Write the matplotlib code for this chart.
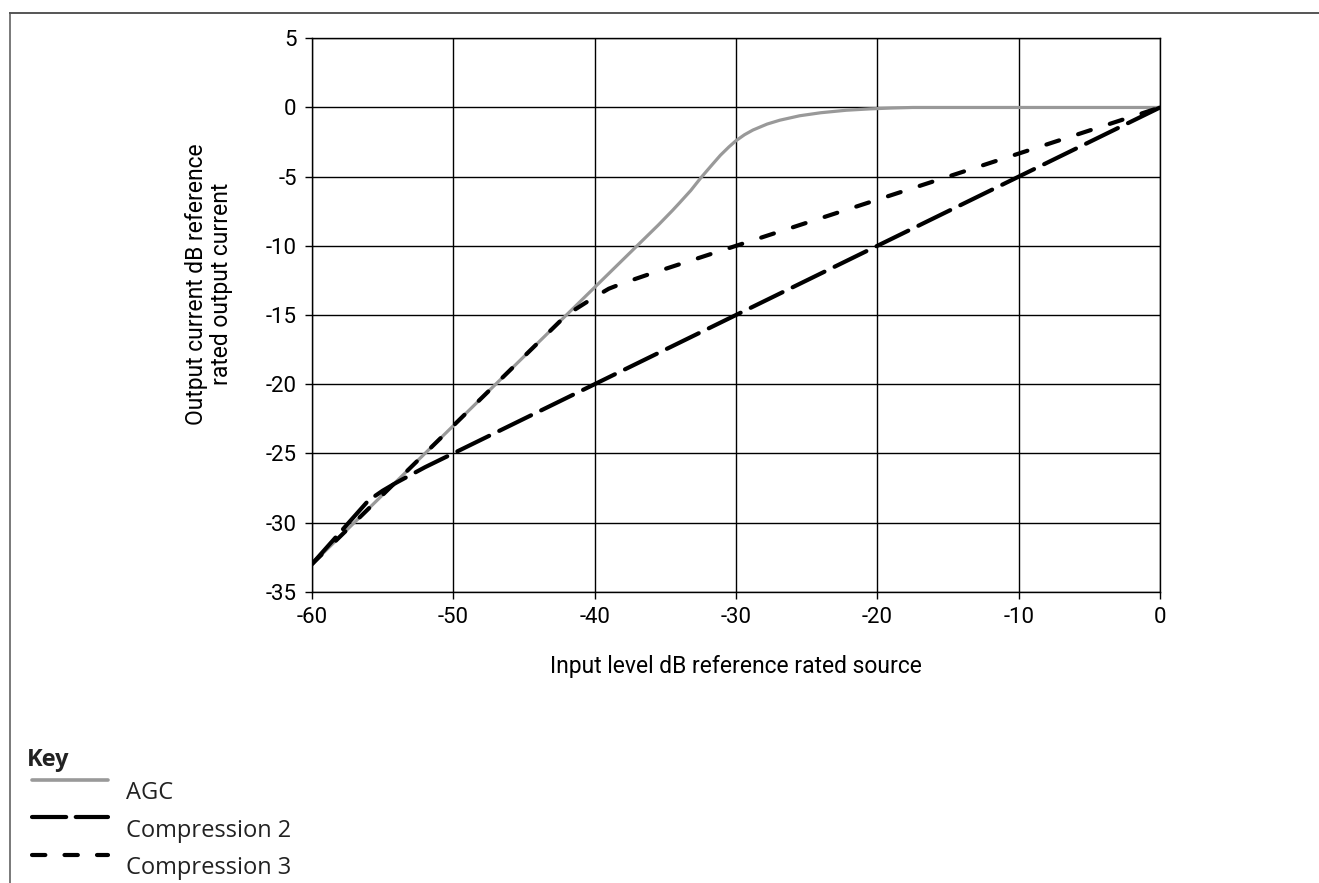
import matplotlib
matplotlib.use("Agg")
import matplotlib.pyplot as plt
from matplotlib.lines import Line2D

# ── Data ─────────────────────────────────────────────────────────────────────
AGC_X = [-60, -50, -40, -37, -35.5, -34.5, -34.0, -33.2, -32.5, -31.7, -31.1,
         -30.5, -30.0, -29.4, -28.8, -27.8, -26.9, -25.5, -24.0, -22.2,
         -20.5, -19.0, -17.5, 0]
AGC_Y = [-33, -23, -13, -10.0, -8.5, -7.45, -6.9, -6.0, -5.1, -4.15, -3.45,
         -2.85, -2.4, -1.97, -1.63, -1.2, -0.92, -0.6, -0.38, -0.2,
         -0.1, -0.04, 0, 0]

COMP2_X = [-60, -56, -55, -54, -52, -50, 0]
COMP2_Y = [-33, -28.4, -27.7, -27.1, -26.0, -25, 0]

COMP3_X = [-60, -42, -40, -39, -38, -36, 0]
COMP3_Y = [-33, -15, -13.7, -13.1, -12.7, -12.0, 0]

X_TICKS = [-60, -50, -40, -30, -20, -10, 0]
Y_TICKS = [5, 0, -5, -10, -15, -20, -25, -30, -35]

SERIES = ["AGC", "Compression 2", "Compression 3"]

# ── Style ────────────────────────────────────────────────────────────────────
W, H = 1319, 883
GREY = "#999999"
TICK_FONT = "Roboto"
KEY_FONT = "Open Sans"
FS_AX = 16
FS_KEY = 17
plt.rcParams["axes.unicode_minus"] = False


def fx(px):
    return px / W


def fy(py):
    return 1 - py / H


fig = plt.figure(figsize=(W / 100, H / 100), dpi=100)
ax = fig.add_axes([fx(312), fy(591.7), fx(1160) - fx(312), fy(38.3) - fy(591.7)])

ax.plot(AGC_X, AGC_Y, color=GREY, linewidth=2.3, zorder=3,
        solid_capstyle="round", solid_joinstyle="round")
ax.plot(COMP2_X, COMP2_Y, color="black", linewidth=3.0, zorder=4,
        dashes=(8.5, 2.7), dash_capstyle="round")
ax.plot(COMP3_X, COMP3_Y, color="black", linewidth=3.0, zorder=5,
        dashes=(3.2, 4.8), dash_capstyle="round")

ax.set_xlim(-60, 0)
ax.set_ylim(-35, 5)
ax.set_xticks(X_TICKS)
ax.set_yticks(Y_TICKS)
ax.set_xticklabels([str(t) for t in X_TICKS], fontfamily=TICK_FONT, fontsize=FS_AX)
ax.set_yticklabels([str(t) for t in Y_TICKS], fontfamily=TICK_FONT, fontsize=FS_AX)
ax.tick_params(axis="both", direction="out", length=5, width=1.0, color="black")
ax.tick_params(axis="x", pad=6)
ax.tick_params(axis="y", pad=6)
ax.grid(True, color="black", linewidth=1.0)
ax.set_axisbelow(True)
for sp in ax.spines.values():
    sp.set_color("black")
    sp.set_linewidth(1.0)

fig.text(fx(736), fy(666), "Input level dB reference rated source",
         ha="center", va="center", fontfamily=TICK_FONT, fontsize=FS_AX + 0.5)
fig.text(fx(209), fy(284), "Output current dB reference\nrated output current",
         ha="center", va="center", rotation=90, fontfamily=TICK_FONT,
         fontsize=FS_AX + 0.5, linespacing=1.1, multialignment="center")

# ── Outer frame (top and left edges only) ────────────────────────────────────
fig.add_artist(Line2D([fx(10), fx(1319)], [fy(13), fy(13)], color="#555555",
                      linewidth=1.4, transform=fig.transFigure))
fig.add_artist(Line2D([fx(10), fx(10)], [fy(13), fy(883)], color="#555555",
                      linewidth=1.1, transform=fig.transFigure))

# ── Key ──────────────────────────────────────────────────────────────────────
fig.text(fx(27), fy(760), "Key", ha="left", va="center", fontfamily=KEY_FONT,
         fontsize=FS_KEY, fontweight="bold", color="#222222")
key_styles = [
    dict(color=GREY, linewidth=2.6, solid_capstyle="round"),
    dict(color="black", linewidth=3.0, dashes=(8.2, 2.3), dash_capstyle="round"),
    dict(color="black", linewidth=3.0, dashes=(3.2, 4.6), dash_capstyle="round"),
]
key_line_y = [780, 817, 855]
key_text_y = [793, 831, 868]
for name, style, ly, ty in zip(SERIES, key_styles, key_line_y, key_text_y):
    fig.add_artist(Line2D([fx(32), fx(108)], [fy(ly), fy(ly)],
                          transform=fig.transFigure, **style))
    fig.text(fx(126), fy(ty), name, ha="left", va="center",
             fontfamily=KEY_FONT, fontsize=FS_KEY, color="#222222")

fig.savefig("out.png", dpi=100)
